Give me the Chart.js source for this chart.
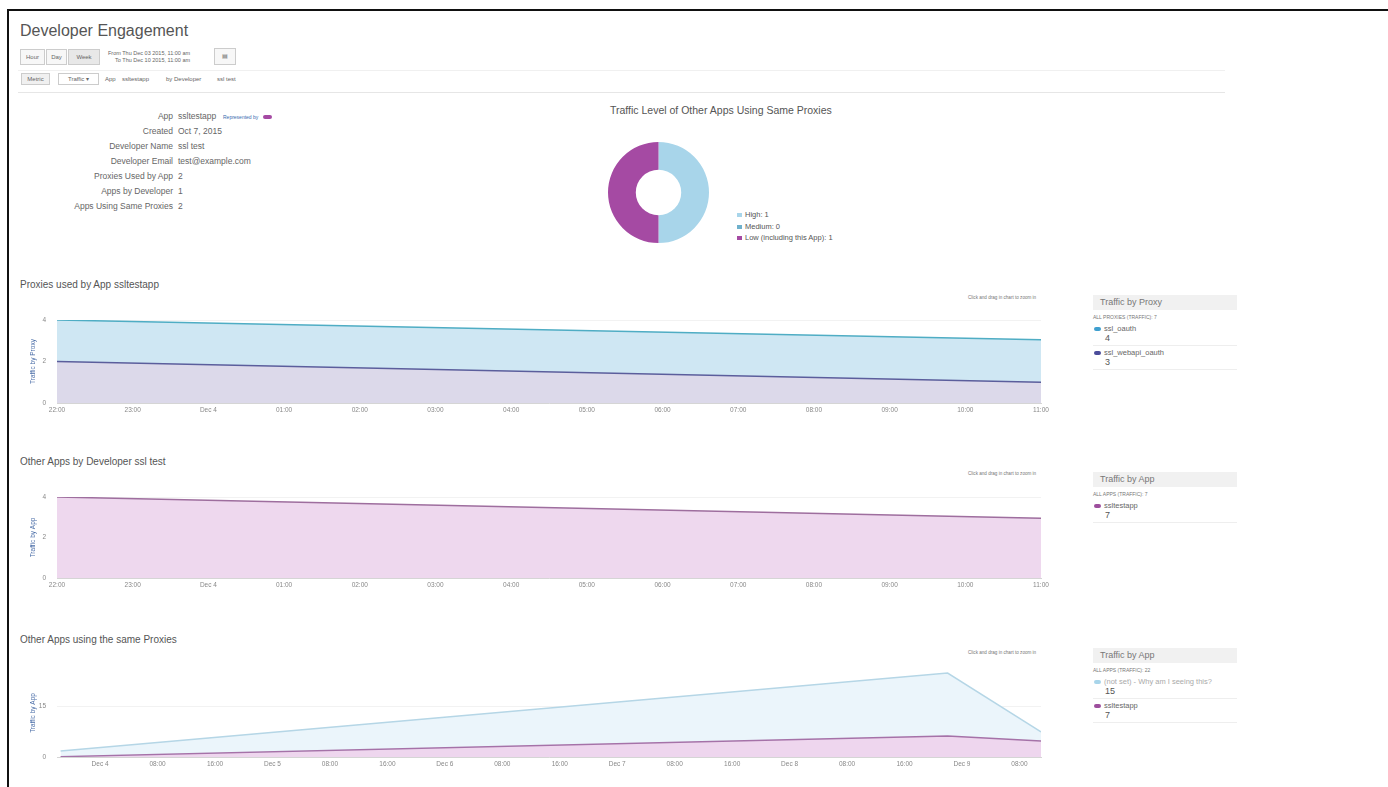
<!DOCTYPE html>
<html>
<head>
<meta charset="utf-8">
<title>Developer Engagement</title>
<script src="https://cdn.jsdelivr.net/npm/chart.js@4.4.0/dist/chart.umd.min.js"></script>
<style>
  body { margin: 0; background: #fff; font-family: "Liberation Sans", Arial, sans-serif; color: #555; }
  #page { position: relative; width: 1388px; height: 787px; overflow: hidden; }
  .abs { position: absolute; white-space: nowrap; }
  .frame { left: 7px; top: 9px; width: 1390px; height: 790px; border-left: 2px solid #111; border-top: 2px solid #111; }
  .btn { position: absolute; border: 1px solid #ccc; background: #f7f7f7; font-size: 6px; color: #666; text-align: center; box-sizing: border-box; }
  .info-l { position: absolute; width: 160px; left: 13px; text-align: right; font-size: 8.5px; color: #666; }
  .info-v { position: absolute; left: 178px; font-size: 8.5px; color: #666; }
  .ctitle { font-size: 10px; color: #555; }
  .zoomhint { font-size: 4.6px; color: #777; }
  .lg-head { position: absolute; left: 1093px; width: 144px; height: 15px; background: #f1f1f1; font-size: 9px; color: #777; line-height: 15px; padding-left: 7px; box-sizing: border-box; }
  .lg-small { position: absolute; left: 1093px; font-size: 5px; color: #777; }
  .lg-mark { position: absolute; left: 1094px; width: 7px; height: 4px; border-radius: 2px; }
  .lg-name { position: absolute; left: 1104px; font-size: 7.5px; color: #666; }
  .lg-val { position: absolute; left: 1105px; font-size: 9px; color: #555; }
  .lg-sep { position: absolute; left: 1093px; width: 144px; height: 1px; background: #eee; }
  canvas { position: absolute; }
</style>
</head>
<body>
<div id="page">
  <div class="abs frame"></div>

  <div class="abs" style="left:20px;top:22px;font-size:16px;color:#555;">Developer Engagement</div>
  <div class="btn" style="left:20px;top:49px;width:25px;height:16px;line-height:14px;">Hour</div>
  <div class="btn" style="left:46px;top:49px;width:21px;height:16px;line-height:14px;">Day</div>
  <div class="btn" style="left:68px;top:49px;width:32px;height:16px;line-height:14px;background:#e8e8e8;">Week</div>
  <div class="abs" style="left:108px;top:50px;font-size:5.5px;color:#666;text-align:right;line-height:7px;">From Thu Dec 03 2015, 11:00 am<br>To Thu Dec 10 2015, 11:00 am</div>
  <div class="btn" style="left:214px;top:48px;width:22px;height:17px;line-height:15px;">&#9636;</div>

  <div class="abs" style="left:18px;top:70px;width:1207px;height:1px;background:#f0f0f0;"></div>
  <div class="btn" style="left:21px;top:73px;width:29px;height:12px;line-height:10px;background:#f0f0f0;">Metric</div>
  <div class="btn" style="left:58px;top:73px;width:41px;height:12px;line-height:10px;background:#fff;">Traffic &#9662;</div>
  <div class="abs" style="left:105px;top:76px;font-size:6px;color:#666;">App</div>
  <div class="abs" style="left:122px;top:76px;font-size:6px;color:#666;">ssltestapp</div>
  <div class="abs" style="left:166px;top:76px;font-size:6px;color:#666;">by Developer</div>
  <div class="abs" style="left:217px;top:76px;font-size:6px;color:#666;">ssl test</div>
  <div class="abs" style="left:18px;top:92px;width:1207px;height:1px;background:#e6e6e6;"></div>

  <div id="info"></div>

  <div class="abs" style="left:610px;top:104px;font-size:10.5px;color:#555;">Traffic Level of Other Apps Using Same Proxies</div>
  <canvas id="donut" width="101" height="101" style="left:608px;top:142px;"></canvas>
  <div id="donutLegend"></div>

  <div class="abs ctitle" style="left:20px;top:279px;">Proxies used by App ssltestapp</div>
  <div class="abs zoomhint" style="left:968px;top:295px;">Click and drag in chart to zoom in</div>
  <canvas id="proxyChart" width="1045" height="128" style="left:10px;top:300px;"></canvas>

  <div class="abs ctitle" style="left:20px;top:456px;">Other Apps by Developer ssl test</div>
  <div class="abs zoomhint" style="left:968px;top:471px;">Click and drag in chart to zoom in</div>
  <canvas id="devChart" width="1045" height="126" style="left:10px;top:477px;"></canvas>

  <div class="abs ctitle" style="left:20px;top:634px;">Other Apps using the same Proxies</div>
  <div class="abs zoomhint" style="left:968px;top:650px;">Click and drag in chart to zoom in</div>
  <canvas id="sameChart" width="1045" height="133" style="left:10px;top:649px;"></canvas>

  <div id="legends"></div>
</div>

<script>
// app details
const infoLabels = ["App", "Created", "Developer Name", "Developer Email", "Proxies Used by App", "Apps by Developer", "Apps Using Same Proxies"];
const infoValues = ["ssltestapp", "Oct 7, 2015", "ssl test", "test@example.com", "2", "1", "2"];

// donut
const levelLabels = ["High", "Medium", "Low (including this App)"];
const levelCounts = [1, 0, 1];
const levelColors = ["#a8d5ea", "#6fb1cc", "#a54aa3"];

// proxies used by app (hourly axis)
const hourLabels = ["22:00", "23:00", "Dec 4", "01:00", "02:00", "03:00", "04:00", "05:00", "06:00", "07:00", "08:00", "09:00", "10:00", "11:00"];
const sslOauth = [4, null, null, null, null, null, null, null, null, null, null, null, null, 3.05];
const sslWebapiOauth = [2, null, null, null, null, null, null, null, null, null, null, null, null, 1.0];

// other apps by developer
const devApp = [4, null, null, null, null, null, null, null, null, null, null, null, null, 2.95];

// other apps using same proxies (hours from Dec 4 00:00)
const sameHours = [-5.5, 118, 131];
const notSet = [1.8, 24.8, 7.4];
const sslTestApp = [0.1, 6.2, 4.7];
const sameTickLabels = ["Dec 4", "08:00", "16:00", "Dec 5", "08:00", "16:00", "Dec 6", "08:00", "16:00", "Dec 7", "08:00", "16:00", "Dec 8", "08:00", "16:00", "Dec 9", "08:00"];

const FONT = "'Liberation Sans', Arial, sans-serif";

const infoHTML = document.querySelector("#info");
const infoTops = [111, 126, 141, 156, 171, 186, 201];
infoLabels.forEach((label, i) => {
  infoHTML.insertAdjacentHTML("beforeend",
    `<div class="info-l" style="top:${infoTops[i]}px">${label}</div>` +
    `<div class="info-v" style="top:${infoTops[i]}px">${infoValues[i]}</div>`);
});
infoHTML.insertAdjacentHTML("beforeend",
  `<div class="abs" style="left:223px;top:114px;font-size:5px;color:#3b6cb0;">Represented by</div>` +
  `<div class="abs" style="left:263px;top:115px;width:9px;height:4px;border-radius:2px;background:#a54aa3;"></div>`);

const donutLegend = document.querySelector("#donutLegend");
levelLabels.forEach((label, i) => {
  const top = 210 + i * 11.5;
  donutLegend.insertAdjacentHTML("beforeend",
    `<div class="abs" style="left:737px;top:${top + 3}px;width:5px;height:4px;background:${levelColors[i]};"></div>` +
    `<div class="abs" style="left:745px;top:${top}px;font-size:7.5px;color:#555;">${label}: ${levelCounts[i]}</div>`);
});

new Chart(document.querySelector("#donut").getContext("2d"), {
  type: "doughnut",
  data: {
    labels: levelLabels,
    datasets: [{ data: levelCounts, backgroundColor: levelColors, borderWidth: 0 }],
  },
  options: {
    responsive: false,
    animation: false,
    cutout: "45%",
    layout: { padding: 0 },
    plugins: { legend: { display: false }, tooltip: { enabled: false } },
  },
});

// shared axis pieces for the area charts
const yAxis = (title, max, step) => ({
  min: 0,
  max: max,
  afterFit: (scale) => { scale.width = 47; },
  grid: { color: "#f2f2f2", drawTicks: false },
  border: { display: false },
  ticks: { stepSize: step, padding: 11, color: "#888", font: { size: 6.5, family: FONT } },
  title: { display: true, text: title, color: "#4b6ea8", font: { size: 6.5, family: FONT }, padding: { top: 19, bottom: 0 } },
});

const xTicks = { color: "#888", font: { size: 6.5, family: FONT }, padding: 3, maxRotation: 0, autoSkip: false };

const areaOptions = (y, x) => ({
  responsive: false,
  animation: false,
  layout: { padding: { top: 20, right: 14, left: 0, bottom: 0 } },
  elements: { point: { radius: 0 }, line: { tension: 0, borderWidth: 1.5 } },
  plugins: { legend: { display: false }, tooltip: { enabled: false } },
  scales: { x: x, y: y },
});

const catX = {
  offset: false,
  afterFit: (scale) => { scale.height = 25; },
  grid: { display: false, drawTicks: false },
  border: { color: "#d5d5d5" },
  ticks: xTicks,
};

new Chart(document.querySelector("#proxyChart").getContext("2d"), {
  type: "line",
  data: {
    labels: hourLabels,
    datasets: [
      { label: "ssl_webapi_oauth", data: sslWebapiOauth, spanGaps: true, fill: "origin", borderColor: "#5b5e9c", backgroundColor: "#dcd9ea", order: 0 },
      { label: "ssl_oauth", data: sslOauth, spanGaps: true, fill: "origin", borderColor: "#4fadc4", backgroundColor: "#cfe7f3", order: 1 },
    ],
  },
  options: areaOptions(yAxis("Traffic by Proxy", 4, 2), catX),
});

new Chart(document.querySelector("#devChart").getContext("2d"), {
  type: "line",
  data: {
    labels: hourLabels,
    datasets: [
      { label: "ssltestapp", data: devApp, spanGaps: true, fill: "origin", borderColor: "#9e6e9e", backgroundColor: "#eed8ee" },
    ],
  },
  options: areaOptions(yAxis("Traffic by App", 4, 2), catX),
});

const sameY = yAxis("Traffic by App", 26, 15);
sameY.afterBuildTicks = (scale) => { scale.ticks = [{ value: 0 }, { value: 15 }]; };
const sameX = {
  type: "linear",
  min: -6,
  max: 131,
  afterFit: (scale) => { scale.height = 25; },
  afterBuildTicks: (scale) => { scale.ticks = sameTickLabels.map((_, i) => ({ value: i * 8 })); },
  grid: { display: false, drawTicks: false },
  border: { color: "#d5d5d5" },
  ticks: { ...xTicks, callback: (value, index) => sameTickLabels[index] },
};

new Chart(document.querySelector("#sameChart").getContext("2d"), {
  type: "line",
  data: {
    datasets: [
      { label: "ssltestapp", data: sameHours.map((h, i) => ({ x: h, y: sslTestApp[i] })), fill: "origin", borderColor: "#a572a8", backgroundColor: "#eed6ee", order: 0 },
      { label: "(not set)", data: sameHours.map((h, i) => ({ x: h, y: notSet[i] })), fill: "origin", borderColor: "#b5d6e6", backgroundColor: "#ebf5fb", order: 1 },
    ],
  },
  options: areaOptions(sameY, sameX),
});

// side legends
const legends = document.querySelector("#legends");
const sideLegend = (top, title, total, entries) => {
  let html = `<div class="lg-head" style="top:${top}px">${title}</div>`;
  html += `<div class="lg-small" style="top:${top + 19}px">${total}</div>`;
  entries.forEach((e, i) => {
    const t = top + 29 + i * 24;
    html += `<div class="lg-mark" style="top:${t + 3}px;background:${e.color}"></div>`;
    html += `<div class="lg-name" style="top:${t}px;color:${e.textColor || "#666"}">${e.name}</div>`;
    html += `<div class="lg-val" style="top:${t + 9}px">${e.value}</div>`;
    html += `<div class="lg-sep" style="top:${t + 21}px"></div>`;
  });
  legends.insertAdjacentHTML("beforeend", html);
};

sideLegend(295, "Traffic by Proxy", "ALL PROXIES (TRAFFIC): 7", [
  { name: "ssl_oauth", value: 4, color: "#3f9fcf" },
  { name: "ssl_webapi_oauth", value: 3, color: "#4b4c9a" },
]);
sideLegend(472, "Traffic by App", "ALL APPS (TRAFFIC): 7", [
  { name: "ssltestapp", value: 7, color: "#9d4f9d" },
]);
sideLegend(648, "Traffic by App", "ALL APPS (TRAFFIC): 22", [
  { name: "(not set) - Why am I seeing this?", value: 15, color: "#a8d5ea", textColor: "#aaa" },
  { name: "ssltestapp", value: 7, color: "#9d4f9d" },
]);
</script>
</body>
</html>
